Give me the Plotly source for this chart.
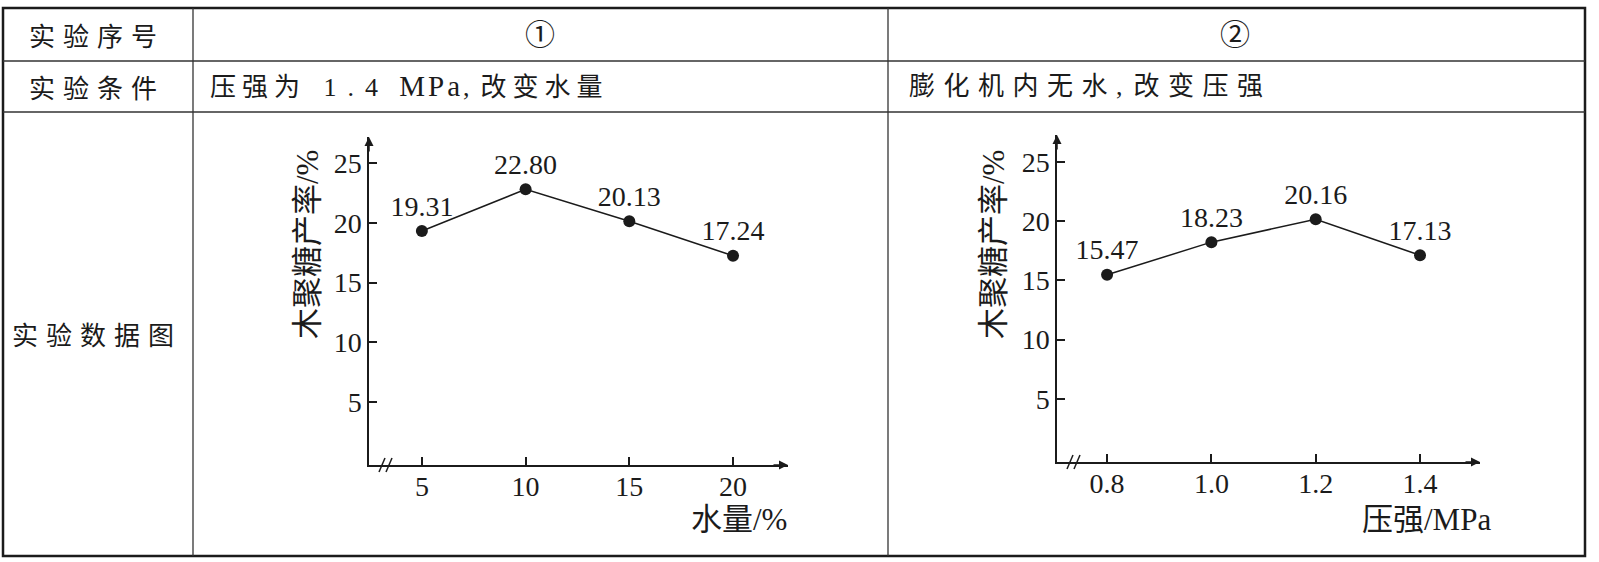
import plotly.graph_objects as go

water_pct = [5, 10, 15, 20]
yield_water = [19.31, 22.80, 20.13, 17.24]
water_labels = ["19.31", "22.80", "20.13", "17.24"]

pressure_mpa = [0.8, 1.0, 1.2, 1.4]
yield_pressure = [15.47, 18.23, 20.16, 17.13]
pressure_labels = ["15.47", "18.23", "20.16", "17.13"]
pressure_ticks = ["0.8", "1.0", "1.2", "1.4"]

yield_ticks = [5, 10, 15, 20, 25]

row_heads = ["实验序号", "实验条件", "实验数据图"]
exp_ids = ["①", "②"]
# conditions split into pieces so each piece can get its own spacing
conditions = [
    [("压强为", "cjk"), (" 1.4", "num"), (" MPa", "lat"), (",", "comma"), ("改变水量", "cjk")],
    [("膨化机内无水", "cjk"), (",", "comma"), ("改变压强", "cjk")],
]
y_title = "木聚糖产率/%"
x_titles = ["水量/%", "压强/MPa"]

W, H = 1599, 562
INK = "#1b1b1b"
SERIF = "Liberation Serif, Noto Sans CJK SC"
CJK = "Noto Sans CJK SC"


def px(x):
    return x / W


def py(y):
    return 1 - y / H


def spaced(s, gap, size=None):
    size_css = f"font-size:{size}px;" if size else ""
    return f'<span style="{size_css}letter-spacing:{gap}px">{s}</span>'


def cond_text(parts, cjk_gap):
    out = ""
    for s, kind in parts:
        if kind == "cjk":
            out += spaced(s, cjk_gap)
        elif kind == "num":
            out += spaced(s, 11)
        elif kind == "comma":
            out += spaced(s, 11)
        else:
            out += spaced(s, 3, 29)
    return out


fig = go.Figure()

for xs, ys, labels, xa, ya in [
    (water_pct, yield_water, water_labels, "x", "y"),
    (pressure_mpa, yield_pressure, pressure_labels, "x2", "y2"),
]:
    fig.add_trace(go.Scatter(
        x=xs, y=ys, text=labels,
        mode="lines+markers+text", textposition="top center",
        textfont=dict(family=SERIF, size=28, color=INK),
        line=dict(color=INK, width=1.5), marker=dict(color=INK, size=12),
        cliponaxis=False, xaxis=xa, yaxis=ya, showlegend=False,
    ))

axis_common = dict(
    showgrid=False, zeroline=False, showline=True, linecolor=INK, linewidth=1.5,
    ticks="inside", ticklen=8, tickwidth=1.5, tickcolor=INK,
    tickfont=dict(family=SERIF, size=28, color=INK),
)

x1_range = [2.45, 22.65]
y1_range = [-0.27, 27.18]
x2_range = [0.704, 1.515]
y2_range = [-0.34, 27.28]

fig.update_layout(
    width=W, height=H,
    margin=dict(l=0, r=0, t=0, b=0),
    paper_bgcolor="white", plot_bgcolor="white",
    xaxis=dict(domain=[px(369), px(788)], range=x1_range, tickvals=water_pct,
               anchor="y", ticklabelstandoff=-4, **axis_common),
    yaxis=dict(domain=[py(465), py(137)], range=y1_range, tickvals=yield_ticks,
               anchor="x", **axis_common),
    xaxis2=dict(domain=[px(1057), px(1480)], range=x2_range, tickvals=pressure_mpa,
                ticktext=pressure_ticks, anchor="y2", ticklabelstandoff=-4, **axis_common),
    yaxis2=dict(domain=[py(462), py(135)], range=y2_range, tickvals=yield_ticks,
                anchor="x2", **axis_common),
)

# table frame
TL, TR, TT, TB = 3, 1585, 8, 556
ROWS = [61, 112]
COLS = [193, 888]
fig.add_shape(type="rect", xref="paper", yref="paper",
              x0=px(TL), x1=px(TR), y0=py(TB), y1=py(TT),
              line=dict(color=INK, width=2.5))
for r in ROWS:
    fig.add_shape(type="line", xref="paper", yref="paper",
                  x0=px(TL), x1=px(TR), y0=py(r), y1=py(r),
                  line=dict(color="#333333", width=1.3))
for c in COLS:
    fig.add_shape(type="line", xref="paper", yref="paper",
                  x0=px(c), x1=px(c), y0=py(TB), y1=py(TT),
                  line=dict(color="#333333", width=1.3))

# axis break marks "//" just right of each origin (origin pixel: x, y)
for ox, oy in [(369, 465), (1057, 462)]:
    for dx in (10, 17):
        fig.add_shape(type="line", xref="paper", yref="paper",
                      x0=px(ox + dx), y0=py(oy + 7), x1=px(ox + dx + 6), y1=py(oy - 7),
                      line=dict(color=INK, width=1.5))

ann = []


def label(text, x, y, size, family=SERIF, xanchor="center", angle=0):
    ann.append(dict(text=text, x=px(x), y=py(y), xref="paper", yref="paper",
                    xanchor=xanchor, yanchor="middle", textangle=angle,
                    showarrow=False, font=dict(family=family, size=size, color=INK)))


for name, ym in zip(row_heads, [35, 86, 333]):
    label(spaced(name, 8), 97, ym, 26, CJK)
for eid, xc in zip(exp_ids, [540, 1235]):
    label(eid, xc, 35, 30)
for parts, xl, gap in zip(conditions, [208, 907], [6, 8.5]):
    label(cond_text(parts, gap), xl, 86, 26, xanchor="left")

# axis titles
for xt, xr in zip(x_titles, [789, 1493]):
    label(xt, xr, 519, 31, xanchor="right")
for xc in [307, 993]:
    label(y_title, xc, 245, 31, angle=-90)

# arrow heads at the axis ends
for xa, ya, xr, yr in [("x", "y", x1_range, y1_range), ("x2", "y2", x2_range, y2_range)]:
    ann.append(dict(x=xr[1], y=yr[0], xref=xa, yref=ya, ax=-16, ay=0, text="",
                    showarrow=True, arrowhead=2, arrowsize=1.2, arrowwidth=1.5, arrowcolor=INK))
    ann.append(dict(x=xr[0], y=yr[1], xref=xa, yref=ya, ax=0, ay=16, text="",
                    showarrow=True, arrowhead=2, arrowsize=1.2, arrowwidth=1.5, arrowcolor=INK))

fig.update_layout(annotations=ann)

fig.write_html(
    "out.html",
    config={"displayModeBar": False},
    post_script="document.body.style.margin='0';document.body.style.overflow='hidden';",
)
